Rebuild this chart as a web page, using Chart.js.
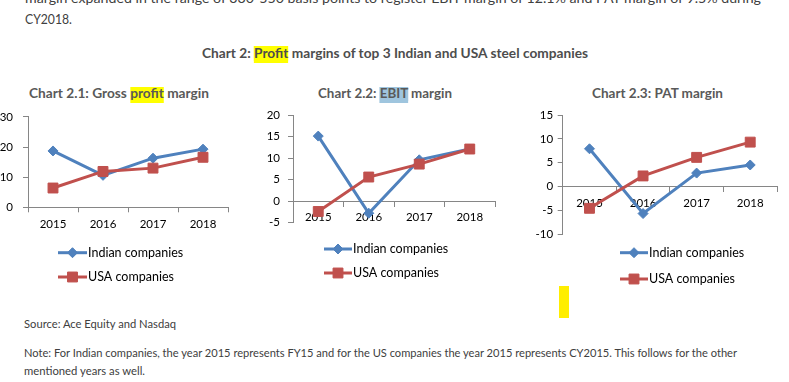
<!DOCTYPE html>
<html><head><meta charset="utf-8">
<script src="https://cdn.jsdelivr.net/npm/chart.js@4.4.0/dist/chart.umd.min.js"></script>
<style>
html,body{margin:0;padding:0;background:#fff;width:789px;height:382px;overflow:hidden;position:relative;font-family:Lato,'Open Sans',sans-serif;}
.t{position:absolute;white-space:nowrap;transform-origin:0 50%;}
.t .in{display:inline-block;}
canvas{position:absolute;}
.hy{background:linear-gradient(to bottom,transparent 2px,#ffff00 2px);box-shadow:0 2px 0 #ffff00;}
.hb{background:linear-gradient(to bottom,transparent 2px,#9fc5de 2px);box-shadow:0 2px 0 #9fc5de;}
</style></head><body>

<div class="t" data-x="25" data-cy="-1.8" data-w="736" style="font-size:14px;color:#404040"><span class="in">margin expanded in the range of 330-550 basis points to register EBIT margin of 12.1% and PAT margin of 9.5% during</span></div>
<div class="t" data-x="25" data-cy="19" data-w="47" style="font-size:14px;color:#404040"><span class="in">CY2018.</span></div>
<div class="t" data-x="202" data-cy="53" data-w="386" style="font-size:14px;font-weight:bold;color:#4d4d4d"><span class="in">Chart 2: <span class="hy">Profit</span> margins of top 3 Indian and USA steel companies</span></div>

<div class="t" data-x="29" data-cy="92.5" data-w="180" style="font-size:13.5px;font-weight:bold;color:#595959"><span class="in">Chart 2.1: Gross <span class="hy">profit</span> margin</span></div>
<div class="t" data-x="318" data-cy="92.5" data-w="134" style="font-size:13.5px;font-weight:bold;color:#595959"><span class="in">Chart 2.2: <span class="hb">EBIT</span> margin</span></div>
<div class="t" data-x="592" data-cy="92.5" data-w="131" style="font-size:13.5px;font-weight:bold;color:#595959"><span class="in">Chart 2.3: PAT margin</span></div>

<canvas id="c1" width="240" height="190" style="left:0px;top:100px"></canvas>
<canvas id="c2" width="260" height="190" style="left:255px;top:100px"></canvas>
<canvas id="c3" width="279" height="200" style="left:510px;top:100px"></canvas>

<div style="position:absolute;left:559px;top:286px;width:10px;height:32px;background:#ffee00"></div>

<div class="t" data-x="24" data-cy="324" data-w="152" style="font-size:11px;color:#404040"><span class="in">Source: Ace Equity and Nasdaq</span></div>
<div class="t" data-x="24" data-cy="353" data-w="713" style="font-size:11px;color:#404040"><span class="in">Note: For Indian companies, the year 2015 represents FY15 and for the US companies the year 2015 represents CY2015. This follows for the other</span></div>
<div class="t" data-x="24" data-cy="371" data-w="121" style="font-size:11px;color:#404040"><span class="in">mentioned years as well.</span></div>

<script>
// ---- data ----
const years = ['2015', '2016', '2017', '2018'];
const seriesNames = ['Indian companies', 'USA companies'];
const grossIndian = [18.7, 10.6, 16.3, 19.3];
const grossUSA    = [6.4, 11.9, 13.0, 16.6];
const ebitIndian  = [15.1, -2.8, 9.6, 12.1];
const ebitUSA     = [-2.4, 5.6, 8.6, 12.1];
const patIndian   = [7.9, -5.7, 2.8, 4.5];
const patUSA      = [-4.6, 2.2, 6.1, 9.3];
const grossTicks  = [0, 30, 10];   // min, max, step
const ebitTicks   = [-5, 20, 5];
const patTicks    = [-10, 15, 5];

// ---- text fitting ----
document.querySelectorAll('.t').forEach(el => {
  const fs = parseFloat(el.style.fontSize);
  const lh = Math.round(fs * 1.3);
  el.style.lineHeight = lh + 'px';
  el.style.left = el.dataset.x + 'px';
  el.style.top = (parseFloat(el.dataset.cy) - lh / 2) + 'px';
  const inner = el.querySelector('.in');
  const nat = inner.getBoundingClientRect().width;
  el.style.transform = 'scaleX(' + (parseFloat(el.dataset.w) / nat) + ')';
});

// ---- legend plugin (stacked items: line + marker + text) ----
const stackLegend = {
  id: 'stackLegend',
  afterDraw(chart, args, opts) {
    const ctx = chart.ctx;
    chart.data.datasets.forEach((ds, i) => {
      const y = opts.ys[i], x = opts.x, len = opts.len;
      ctx.save();
      ctx.strokeStyle = ds.borderColor;
      ctx.lineWidth = ds.borderWidth;
      ctx.beginPath(); ctx.moveTo(x, y); ctx.lineTo(x + len, y); ctx.stroke();
      ctx.fillStyle = ds.backgroundColor;
      ctx.strokeStyle = ds.borderColor;
      ctx.lineWidth = 1;
      Chart.helpers.drawPoint(ctx, {pointStyle: ds.pointStyle, radius: ds.pointRadius, borderWidth: 1, rotation: 0}, x + len / 2, y);
      ctx.fillStyle = '#000';
      ctx.font = '12.5px Lato';
      ctx.textBaseline = 'middle';
      ctx.textAlign = 'left';
      ctx.fillText(ds.label, x + len + 1, y);
      ctx.restore();
    });
  }
};

const BLUE = '#4f81bd', RED = '#c0504d', AXIS = '#868686';
const tickFont = {family: 'Lato', size: 11.5};

function makeChart(id, indian, usa, tk, geo) {
  return new Chart(document.getElementById(id), {
    type: 'line',
    data: {
      labels: years,
      datasets: [
        {label: seriesNames[0], data: indian, borderColor: BLUE, backgroundColor: BLUE,
         pointBackgroundColor: BLUE, pointBorderColor: BLUE, borderWidth: 3,
         pointStyle: 'rectRot', pointRadius: 5, pointBorderWidth: 1, tension: 0, order: 1},
        {label: seriesNames[1], data: usa, borderColor: RED, backgroundColor: RED,
         pointBackgroundColor: RED, pointBorderColor: RED, borderWidth: 3,
         pointStyle: 'rect', pointRadius: 7, pointBorderWidth: 1, tension: 0, order: 0}
      ]
    },
    options: {
      responsive: false, animation: false, devicePixelRatio: 1,
      layout: {padding: geo.pad},
      plugins: {legend: {display: false}, tooltip: {enabled: false}, title: {display: false},
                stackLegend: geo.legend},
      scales: {
        x: {
          type: 'category', offset: true, position: geo.xPos,
          grid: {offset: true, drawOnChartArea: false, drawTicks: true, tickLength: 5, color: AXIS},
          border: {color: AXIS, width: 1},
          ticks: {font: tickFont, color: '#000', padding: geo.xPad, maxRotation: 0, autoSkip: false},
          afterFit: s => { if (geo.xH) s.height = geo.xH; }
        },
        y: {
          min: tk[0], max: tk[1], position: 'left',
          ticks: {stepSize: tk[2], font: tickFont, color: '#000', padding: geo.yPad},
          grid: {drawOnChartArea: false, drawTicks: true, tickLength: 5, color: AXIS},
          border: {color: AXIS, width: 1},
          afterFit: s => { s.width = geo.yW; }
        }
      }
    },
    plugins: [stackLegend]
  });
}

makeChart('c1', grossIndian, grossUSA, grossTicks, {
  pad: {left: 0, top: 15, right: 12, bottom: 0}, yW: 28, xH: 82.7, xPos: 'bottom', xPad: 5, yPad: 10,
  legend: {x: 58, len: 29, ys: [152.7, 177]}
});
makeChart('c2', ebitIndian, ebitUSA, ebitTicks, {
  pad: {left: 0, top: 15, right: 20, bottom: 67.3}, yW: 38, xH: 0, xPos: {y: 0}, xPad: 4, yPad: 8,
  legend: {x: 69, len: 28, ys: [149, 173]}
});
makeChart('c3', patIndian, patUSA, patTicks, {
  pad: {left: 0, top: 15, right: 12, bottom: 66}, yW: 52.7, xH: 0, xPos: {y: 0}, xPad: 5, yPad: 4.5,
  legend: {x: 110, len: 28, ys: [152.7, 179]}
});
</script>
</body></html>
